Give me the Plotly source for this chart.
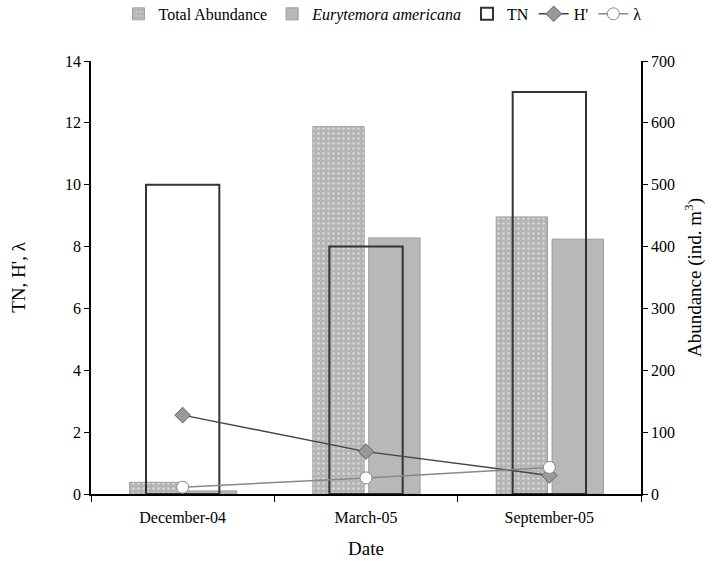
import plotly.graph_objects as go

dates = ["December-04", "March-05", "September-05"]
total_abundance = [19, 594, 448]
eurytemora = [5, 414, 412]
tn = [10, 8, 13]
h_prime = [2.55, 1.37, 0.6]
lam = [0.22, 0.52, 0.86]

serif = "Liberation Serif, Times New Roman, serif"
font = dict(family=serif, size=16, color="black")

fig = go.Figure()
fig.add_trace(go.Bar(
    x=dates, y=total_abundance, name="Total Abundance", yaxis="y",
    width=0.28, offset=-0.29,
    marker=dict(color="#b4b4b4", line=dict(color="#a0a0a0", width=1),
                pattern=dict(shape=".", fgcolor="white", bgcolor="#b4b4b4", size=5, solidity=0.2)),
))
fig.add_trace(go.Bar(
    x=dates, y=eurytemora, name="<i>Eurytemora americana</i>", yaxis="y",
    width=0.28, offset=0.015,
    marker=dict(color="#b8b8b8", line=dict(color="#9a9a9a", width=1)),
))
fig.add_trace(go.Bar(
    x=dates, y=tn, name="TN", yaxis="y2",
    width=0.4, offset=-0.2,
    marker=dict(color="rgba(0,0,0,0)", line=dict(color="#333333", width=2)),
))
fig.add_trace(go.Scatter(
    x=dates, y=h_prime, name="H'", yaxis="y2", mode="lines+markers",
    line=dict(color="#444444", width=1.5),
    marker=dict(symbol="diamond", size=12, color="#999999", line=dict(color="#666666", width=1)),
))
fig.add_trace(go.Scatter(
    x=dates, y=lam, name="λ", yaxis="y2", mode="lines+markers",
    line=dict(color="#888888", width=1.5),
    marker=dict(symbol="circle", size=12, color="white", line=dict(color="#888888", width=1)),
))

fig.update_layout(
    width=726, height=561,
    margin=dict(l=91, r=85, t=61, b=67, autoexpand=False),
    paper_bgcolor="white", plot_bgcolor="white",
    font=font,
    barmode="overlay",
    showlegend=True,
    legend=dict(orientation="h", x=0.53, xanchor="center", y=1.148, yanchor="top",
                font=dict(family=serif, size=16),
                itemwidth=30, tracegroupgap=0, bgcolor="rgba(0,0,0,0)"),
    xaxis=dict(
        type="category", title=dict(text="Date", standoff=16),
        showline=True, linecolor="black", linewidth=1.5,
        ticks="outside", tickson="boundaries", ticklen=6, tickcolor="black",
        ticklabelstandoff=8,
        showgrid=False, zeroline=False, automargin=False,
    ),
    yaxis=dict(
        side="right", range=[0, 700], dtick=100,
        title=dict(text="Abundance (ind. m<sup>3</sup>)", standoff=14),
        showline=True, linecolor="black", linewidth=1.5,
        ticks="outside", ticklen=5, tickcolor="black",
        showgrid=False, zeroline=False, automargin=False,
    ),
    yaxis2=dict(
        side="left", overlaying="y", range=[0, 14], dtick=2,
        title=dict(text="TN, H', λ", standoff=34),
        showline=True, linecolor="black", linewidth=1.5,
        ticks="outside", ticklen=5, tickcolor="black",
        showgrid=False, zeroline=False, automargin=False,
    ),
)

fig.write_html("out.html", config={"displayModeBar": False},
               post_script="document.body.style.margin='0';")
